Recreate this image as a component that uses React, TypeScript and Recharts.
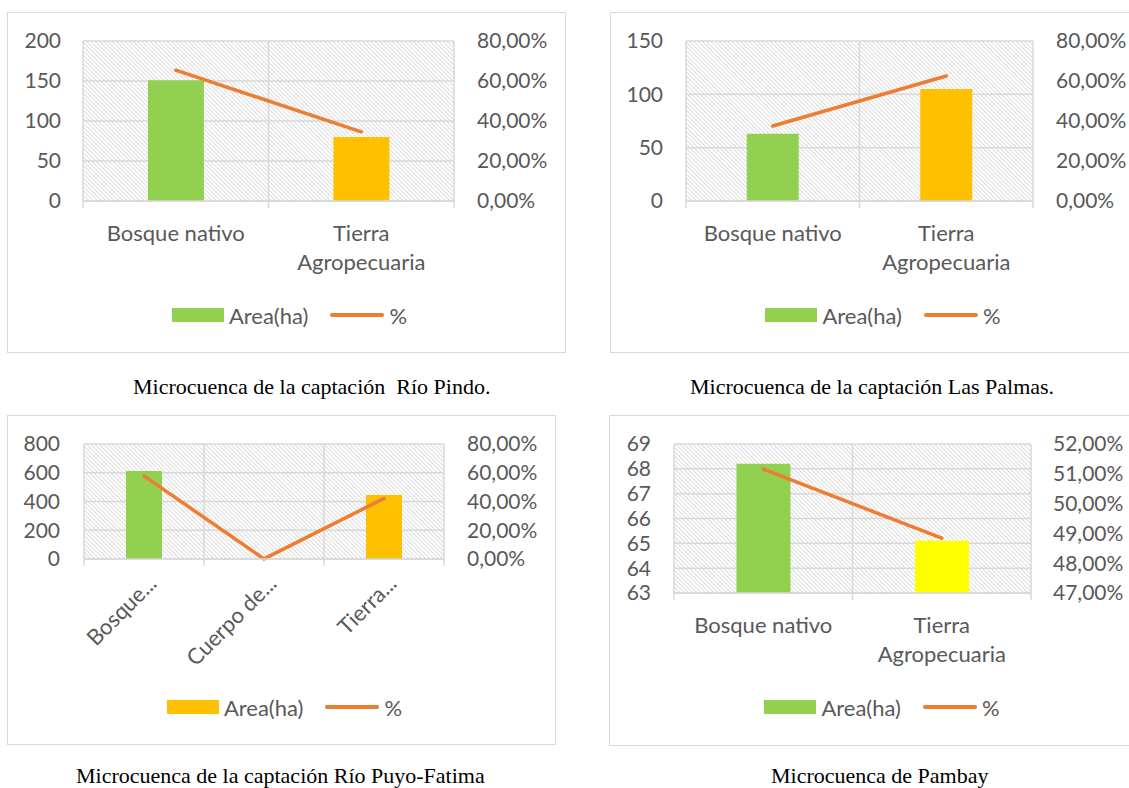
import React from "react";
import {
  Bar,
  CartesianGrid,
  Cell,
  ComposedChart,
  Legend,
  Line,
  XAxis,
  YAxis,
} from "recharts";

// Río Pindo
const pindoCategories = ["Bosque nativo", "Tierra Agropecuaria"];
const pindoArea = [151, 80];
const pindoPct = [0.654, 0.346];
const pindoAreaTicks = [0, 50, 100, 150, 200];

// Las Palmas
const palmasCategories = ["Bosque nativo", "Tierra Agropecuaria"];
const palmasArea = [63, 105];
const palmasPct = [0.375, 0.625];
const palmasAreaTicks = [0, 50, 100, 150];

// Río Puyo-Fatima
const puyoCategories = ["Bosque nativo", "Cuerpo de agua", "Tierra Agropecuaria"];
const puyoTickLabels = ["Bosque...", "Cuerpo de...", "Tierra..."];
const puyoArea = [612, 0.5, 445];
const puyoPct = [0.578, 0.0005, 0.4215];
const puyoAreaTicks = [0, 200, 400, 600, 800];

// Pambay
const pambayCategories = ["Bosque nativo", "Tierra Agropecuaria"];
const pambayArea = [68.2, 65.1];
const pambayPct = [0.5116, 0.4884];
const pambayAreaTicks = [63, 64, 65, 66, 67, 68, 69];
const pambayPctTicks = [0.47, 0.48, 0.49, 0.5, 0.51, 0.52];

const pctTicks = [0, 0.2, 0.4, 0.6, 0.8];

const GREEN = "#92D050";
const GOLD = "#FFC000";
const YELLOW = "#FFFF00";
const LINE = "#ED7D31";
const GRID = "#d9d9d9";
const TEXT = "#595959";
const FONT = "Lato, 'Open Sans', sans-serif";
const FS_Y = 21;
const FS_X = 22;

const fmtPct = (v: number) => `${(v * 100).toFixed(2).replace(".", ",")}%`;

type ChartProps = {
  box: { left: number; top: number; w: number; h: number };
  plot: { left: number; right: number; top: number; bottom: number };
  categories: string[];
  area: number[];
  pct: number[];
  areaTicks: number[];
  pctTicksList: number[];
  barColors: string[];
  seriesColor: string;
  tickLabels?: string[];
  legendTop: number;
  gapL: number;
  gapR: number;
};

function WrapTick(props: any) {
  const { x, y, payload, band, last, labels } = props;
  const half = typeof payload.offset === "number" && payload.offset > 0 ? payload.offset : band / 2;
  const label: string = labels ? labels[payload.index] : String(payload.value);
  const words = label.split(" ");
  const lines: string[] = [];
  let cur = "";
  for (const w of words) {
    const next = cur ? cur + " " + w : w;
    if (next.length * 11 > band * 0.85 && cur) {
      lines.push(cur);
      cur = w;
    } else cur = next;
  }
  if (cur) lines.push(cur);
  return (
    <g>
      <line x1={x - half} x2={x - half} y1={y} y2={y + 7} stroke={GRID} strokeWidth={1.5} />
      {last && <line x1={x + half} x2={x + half} y1={y} y2={y + 7} stroke={GRID} strokeWidth={1.5} />}
      {labels ? (
        <text
          x={x + 14}
          y={y + 26}
          transform={`rotate(-45, ${x + 14}, ${y + 26})`}
          textAnchor="end"
          fill={TEXT}
          fontSize={FS_X}
          fontFamily={FONT}
        >
          {label}
        </text>
      ) : (
        lines.map((l, i) => (
          <text
            key={i}
            x={x}
            y={y + 40 + i * 29}
            textAnchor="middle"
            fill={TEXT}
            fontSize={FS_X}
            fontFamily={FONT}
          >
            {l}
          </text>
        ))
      )}
    </g>
  );
}

function LegendContent(props: any) {
  const items = [...(props.payload || [])].sort(
    (a: any, b: any) => (a.type === "line" ? 1 : 0) - (b.type === "line" ? 1 : 0)
  );
  return (
    <div
      style={{
        display: "flex",
        justifyContent: "center",
        alignItems: "center",
        fontFamily: FONT,
        fontSize: FS_X,
        color: TEXT,
        height: 22,
        paddingLeft: 6,
      }}
    >
      {items.map((it: any, i: number) => (
        <div key={i} style={{ display: "flex", alignItems: "center", marginLeft: i ? 22 : 0 }}>
          {it.type === "line" ? (
            <span style={{ width: 54, height: 4, borderRadius: 2, background: it.color, marginRight: 5 }} />
          ) : (
            <span style={{ width: 52, height: 14, background: it.color, marginRight: 5 }} />
          )}
          <span>{it.value}</span>
        </div>
      ))}
    </div>
  );
}

function ComboChart(p: ChartProps) {
  const data = p.categories.map((name, i) => ({ name, area: p.area[i], pct: p.pct[i] }));
  const n = p.categories.length;
  const band = (p.plot.right - p.plot.left) / n;
  const below = p.box.h - p.plot.bottom;
  return (
    <div
      style={{
        position: "absolute",
        left: p.box.left,
        top: p.box.top,
        width: p.box.w,
        height: p.box.h,
        border: `1px solid ${GRID}`,
        boxSizing: "border-box",
        background: "#fff",
      }}
    >
      <div style={{ position: "absolute", left: -1, top: -1 }}>
        <ComposedChart
          width={p.box.w}
          height={p.box.h}
          data={data}
          margin={{ top: p.plot.top, left: 0, right: 0, bottom: below - 100 }}
          barCategoryGap="35%"
        >
          <CartesianGrid
            yAxisId="left"
            stroke={GRID}
            strokeWidth={1.5}
            fill="url(#excelHatch)"
            fillOpacity={1}
            verticalCoordinatesGenerator={({ offset }: any) =>
              Array.from({ length: n + 1 }, (_, i) => offset.left + (i * offset.width) / n)
            }
          />
          <XAxis
            dataKey="name"
            height={100}
            interval={0}
            tickLine={false}
            tickSize={0}
            tickMargin={0}
            axisLine={{ stroke: GRID, strokeWidth: 1.5 }}
            tick={(tp: any) => (
              <WrapTick {...tp} band={band} last={tp.index === n - 1} labels={p.tickLabels} />
            )}
          />
          <YAxis
            yAxisId="left"
            width={p.plot.left}
            domain={[p.areaTicks[0], p.areaTicks[p.areaTicks.length - 1]]}
            ticks={p.areaTicks}
            interval={0}
            axisLine={false}
            tickLine={false}
            tickSize={0}
            tickMargin={p.gapL}
            tick={{ fill: TEXT, fontSize: FS_Y, fontFamily: FONT }}
          />
          <YAxis
            yAxisId="right"
            orientation="right"
            width={p.box.w - p.plot.right}
            domain={[p.pctTicksList[0], p.pctTicksList[p.pctTicksList.length - 1]]}
            ticks={p.pctTicksList}
            interval={0}
            axisLine={false}
            tickLine={false}
            tickSize={0}
            tickMargin={p.gapR}
            tickFormatter={fmtPct}
            tick={{ fill: TEXT, fontSize: FS_Y, fontFamily: FONT }}
          />
          <Bar yAxisId="left" dataKey="area" name="Area(ha)" fill={p.seriesColor} isAnimationActive={false}>
            {data.map((d, i) => (
              <Cell key={d.name} fill={p.barColors[i]} />
            ))}
          </Bar>
          <Line
            yAxisId="right"
            dataKey="pct"
            name="%"
            type="linear"
            stroke={LINE}
            strokeWidth={3.5}
            strokeLinecap="round"
            dot={false}
            activeDot={false}
            isAnimationActive={false}
          />
          <Legend
            verticalAlign="middle"
            align="center"
            layout="horizontal"
            content={<LegendContent />}
            wrapperStyle={{ top: p.legendTop, left: 0, width: p.box.w }}
          />
        </ComposedChart>
      </div>
    </div>
  );
}

const captionStyle: React.CSSProperties = {
  position: "absolute",
  fontFamily: "'Liberation Serif', 'Times New Roman', serif",
  fontSize: 22,
  color: "#000",
  whiteSpace: "pre",
  lineHeight: "22px",
};

export default function App() {
  return (
    <div
      style={{
        position: "absolute",
        left: 0,
        top: 0,
        width: 1129,
        height: 788,
        overflow: "hidden",
        background: "#fff",
      }}
    >
      <svg width={0} height={0} style={{ position: "absolute" }}>
        <defs>
          <pattern
            id="excelHatch"
            width={4}
            height={3}
            patternUnits="userSpaceOnUse"
            patternTransform="rotate(45)"
          >
            <rect width={4} height={3} fill="#ffffff" />
            <rect width={4} height={1} fill="#dcdcdc" />
          </pattern>
        </defs>
      </svg>

      <ComboChart
        box={{ left: 7, top: 12, w: 559, h: 341 }}
        plot={{ left: 76, right: 447, top: 29, bottom: 189 }}
        categories={pindoCategories}
        area={pindoArea}
        pct={pindoPct}
        areaTicks={pindoAreaTicks}
        pctTicksList={pctTicks}
        barColors={[GREEN, GOLD]}
        seriesColor={GREEN}
        legendTop={292}
        gapL={22}
        gapR={23}
      />
      <ComboChart
        box={{ left: 610, top: 12, w: 540, h: 341 }}
        plot={{ left: 76, right: 423, top: 29, bottom: 189 }}
        categories={palmasCategories}
        area={palmasArea}
        pct={palmasPct}
        areaTicks={palmasAreaTicks}
        pctTicksList={pctTicks}
        barColors={[GREEN, GOLD]}
        seriesColor={GREEN}
        legendTop={292}
        gapL={23}
        gapR={23}
      />
      <ComboChart
        box={{ left: 7, top: 415, w: 549, h: 330 }}
        plot={{ left: 77, right: 437, top: 29, bottom: 144 }}
        categories={puyoCategories}
        tickLabels={puyoTickLabels}
        area={puyoArea}
        pct={puyoPct}
        areaTicks={puyoAreaTicks}
        pctTicksList={pctTicks}
        barColors={[GREEN, GOLD, GOLD]}
        seriesColor={GOLD}
        legendTop={281}
        gapL={24}
        gapR={23}
      />
      <ComboChart
        box={{ left: 609, top: 415, w: 540, h: 331 }}
        plot={{ left: 65, right: 422, top: 29, bottom: 178 }}
        categories={pambayCategories}
        area={pambayArea}
        pct={pambayPct}
        areaTicks={pambayAreaTicks}
        pctTicksList={pambayPctTicks}
        barColors={[GREEN, YELLOW]}
        seriesColor={GREEN}
        legendTop={281}
        gapL={23}
        gapR={22}
      />

      <div style={{ ...captionStyle, left: 133, top: 376 }}>Microcuenca de la captación  Río Pindo.</div>
      <div style={{ ...captionStyle, left: 690, top: 376 }}>Microcuenca de la captación Las Palmas.</div>
      <div style={{ ...captionStyle, left: 76, top: 765 }}>Microcuenca de la captación Río Puyo-Fatima</div>
      <div style={{ ...captionStyle, left: 771, top: 765 }}>Microcuenca de Pambay</div>
    </div>
  );
}
